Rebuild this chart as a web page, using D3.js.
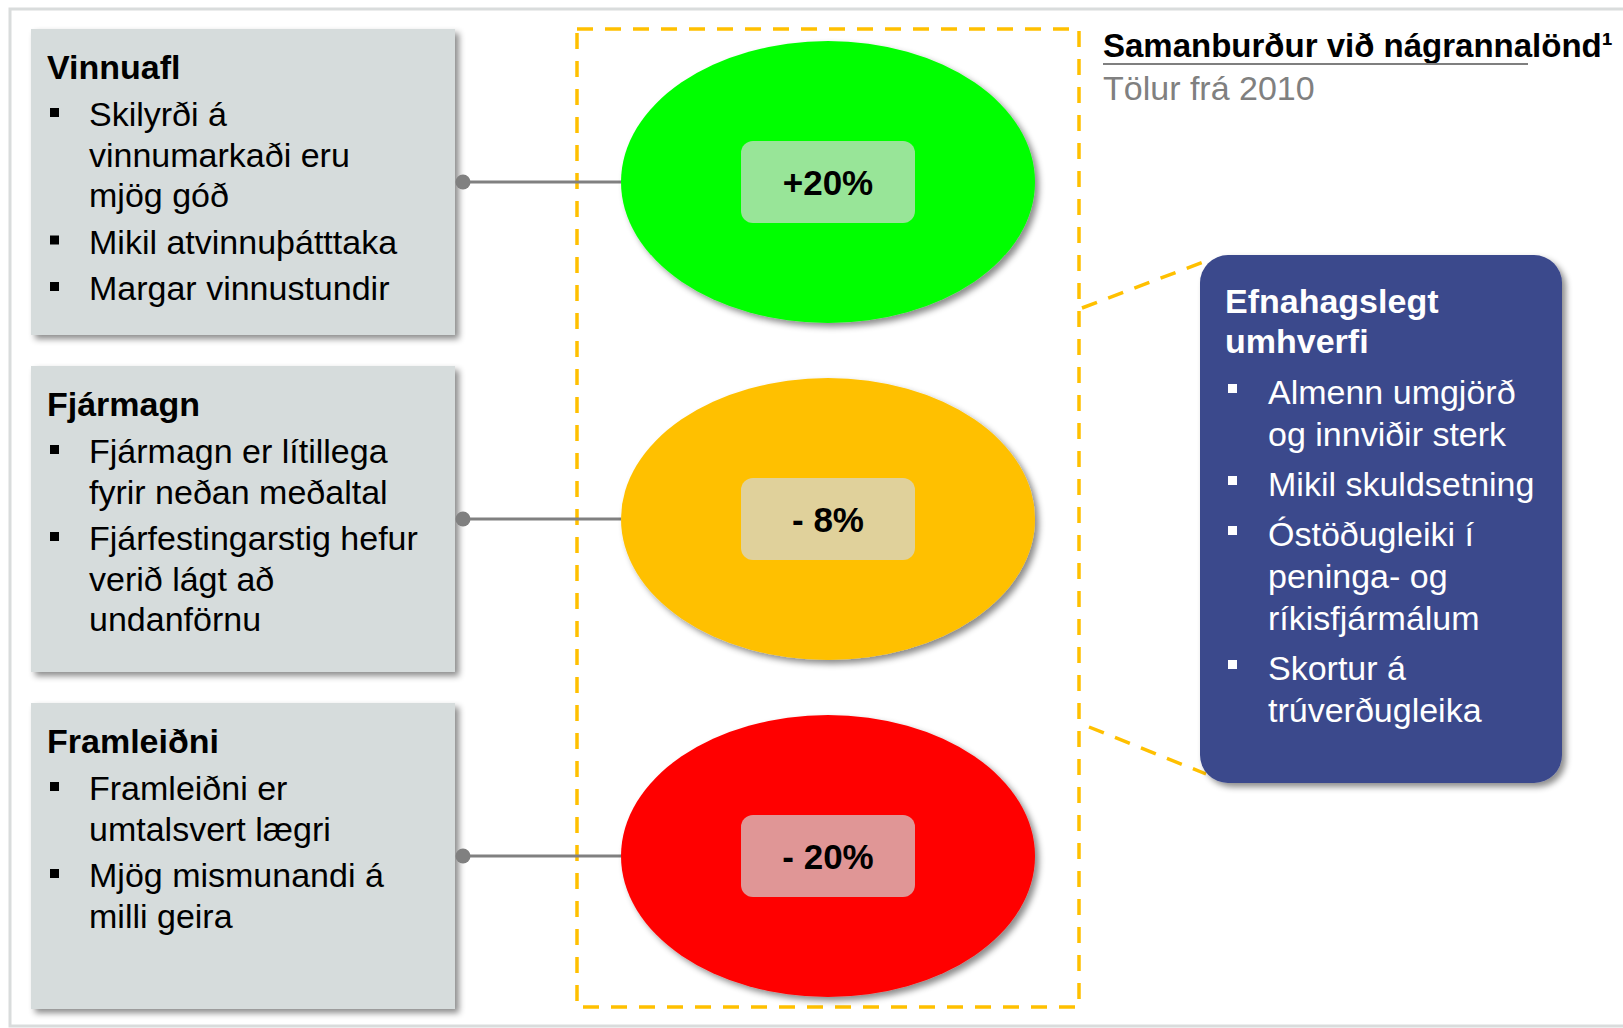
<!DOCTYPE html>
<html>
<head>
<meta charset="utf-8">
<script src="https://cdn.jsdelivr.net/npm/d3@7"></script>
<style>
  body { margin: 0; background: #fff; }
  svg { display: block; font-family: "Liberation Sans", Arial, sans-serif; }
</style>
</head>
<body>
<script>
// the three factors, compared with neighbouring countries
var factors = ["Vinnuafl", "Fjármagn", "Framleiðni"];
var values = [20, -8, -20];
var ellipseColors = ["#00ff00", "#ffc000", "#ff0000"];
var labelColors = ["#98e598", "#e0d19b", "#e09696"];

// bullet text per factor, one array of lines per bullet
var bullets = [
  [["Skilyrði á", "vinnumarkaði eru", "mjög góð"], ["Mikil atvinnuþátttaka"], ["Margar vinnustundir"]],
  [["Fjármagn er lítillega", "fyrir neðan meðaltal"], ["Fjárfestingarstig hefur", "verið lágt að", "undanförnu"]],
  [["Framleiðni er", "umtalsvert lægri"], ["Mjög mismunandi á", "milli geira"]]
];

// economic environment box
var envTitle = ["Efnahagslegt", "umhverfi"];
var envBullets = [
  ["Almenn umgjörð", "og innviðir sterk"],
  ["Mikil skuldsetning"],
  ["Óstöðugleiki í", "peninga- og", "ríkisfjármálum"],
  ["Skortur á", "trúverðugleika"]
];

var title = "Samanburður við nágrannalönd";
var subtitle = "Tölur frá 2010";

var width = 1623, height = 1028;

var svg = d3.select("body").append("svg")
    .attr("width", width)
    .attr("height", height);

// drop shadow used by boxes and ellipses
var shadow = svg.append("defs").append("filter")
    .attr("id", "shadow")
    .attr("x", "-10%").attr("y", "-10%")
    .attr("width", "130%").attr("height", "130%");
shadow.append("feDropShadow")
    .attr("dx", 4).attr("dy", 4)
    .attr("stdDeviation", 3)
    .attr("flood-color", "#000")
    .attr("flood-opacity", 0.45);

// outer frame
svg.append("rect")
    .attr("x", 10).attr("y", 9)
    .attr("width", 1700).attr("height", 1017)
    .attr("fill", "none")
    .attr("stroke", "#d9dcdc")
    .attr("stroke-width", 3);

// rows
var y = d3.scaleBand().domain(factors).range([29, 1009]).paddingInner(0.092);
var color = d3.scaleOrdinal().domain(factors).range(ellipseColors);
var labelColor = d3.scaleOrdinal().domain(factors).range(labelColors);
var cy = function(d) { return y(d.name) + y.bandwidth() / 2; };

var rows = factors.map(function(f, i) {
  return {name: f, value: values[i], bullets: bullets[i]};
});

var fmt = function(v) { return v > 0 ? "+" + v + "%" : "- " + Math.abs(v) + "%"; };

// dashed frame round the ellipses
svg.append("rect")
    .attr("x", 577).attr("y", 29)
    .attr("width", 502).attr("height", 978)
    .attr("fill", "none")
    .attr("stroke", "#ffc000")
    .attr("stroke-width", 3.5)
    .attr("stroke-dasharray", "16,12");

// grey boxes on the left
var box = svg.selectAll("g.factor")
    .data(rows)
  .enter().append("g")
    .attr("class", "factor");

box.append("rect")
    .attr("x", 31)
    .attr("y", function(d) { return y(d.name); })
    .attr("width", 424)
    .attr("height", y.bandwidth())
    .attr("fill", "#d6dcdc")
    .attr("filter", "url(#shadow)");

box.each(function(d) {
  var g = d3.select(this);
  var base = y(d.name) + 50;
  g.append("text")
      .attr("x", 47).attr("y", base)
      .attr("font-size", 34)
      .attr("font-weight", "bold")
      .attr("fill", "#000")
      .text(d.name);
  base += 47;
  d.bullets.forEach(function(lines) {
    g.append("rect")
        .attr("x", 50).attr("y", base - 18)
        .attr("width", 9).attr("height", 9)
        .attr("fill", "#000");
    lines.forEach(function(line) {
      g.append("text")
          .attr("x", 89).attr("y", base)
          .attr("font-size", 34)
          .attr("fill", "#000")
          .text(line);
      base += 40.5;
    });
    base += 6;
  });
});

// connectors
box.append("line")
    .attr("x1", 463).attr("x2", 621)
    .attr("y1", cy).attr("y2", cy)
    .attr("stroke", "#808080")
    .attr("stroke-width", 3);

box.append("circle")
    .attr("cx", 463).attr("cy", cy)
    .attr("r", 7.5)
    .attr("fill", "#808080");

// ellipses
box.append("ellipse")
    .attr("cx", 828).attr("cy", cy)
    .attr("rx", 207).attr("ry", 141)
    .attr("fill", function(d) { return color(d.name); })
    .attr("filter", "url(#shadow)");

box.append("rect")
    .attr("x", 741)
    .attr("y", function(d) { return cy(d) - 41; })
    .attr("width", 174).attr("height", 82)
    .attr("rx", 12)
    .attr("fill", function(d) { return labelColor(d.name); });

box.append("text")
    .attr("x", 828).attr("y", cy)
    .attr("dy", "0.37em")
    .attr("text-anchor", "middle")
    .attr("font-size", 35)
    .attr("font-weight", "bold")
    .attr("fill", "#000")
    .text(function(d) { return fmt(d.value); });

// title
svg.append("text")
    .attr("x", 1103).attr("y", 57)
    .attr("font-size", 33)
    .attr("font-weight", "bold")
    .attr("fill", "#000")
    .text(title + "¹");

svg.append("line")
    .attr("x1", 1103).attr("x2", 1528)
    .attr("y1", 64).attr("y2", 64)
    .attr("stroke", "#7f7f7f")
    .attr("stroke-width", 2);

svg.append("text")
    .attr("x", 1103).attr("y", 100)
    .attr("font-size", 34)
    .attr("fill", "#808080")
    .text(subtitle);

// dashed callout lines to the blue box
[[1082, 308, 1206, 261], [1089, 727, 1206, 774]].forEach(function(p) {
  svg.append("line")
      .attr("x1", p[0]).attr("y1", p[1])
      .attr("x2", p[2]).attr("y2", p[3])
      .attr("stroke", "#ffc000")
      .attr("stroke-width", 3.5)
      .attr("stroke-dasharray", "16,12");
});

// blue box
var env = svg.append("g");
env.append("rect")
    .attr("x", 1200).attr("y", 255)
    .attr("width", 362).attr("height", 528)
    .attr("rx", 28)
    .attr("fill", "#3a488c")
    .attr("filter", "url(#shadow)");

envTitle.forEach(function(t, i) {
  env.append("text")
      .attr("x", 1225).attr("y", 313 + i * 40)
      .attr("font-size", 34)
      .attr("font-weight", "bold")
      .attr("fill", "#fff")
      .text(t);
});

var base = 404;
envBullets.forEach(function(lines) {
  env.append("rect")
      .attr("x", 1228).attr("y", base - 20)
      .attr("width", 9).attr("height", 9)
      .attr("fill", "#fff");
  lines.forEach(function(line) {
    env.append("text")
        .attr("x", 1268).attr("y", base)
        .attr("font-size", 34)
        .attr("fill", "#fff")
        .text(line);
    base += 42;
  });
  base += 8;
});
</script>
</body>
</html>
